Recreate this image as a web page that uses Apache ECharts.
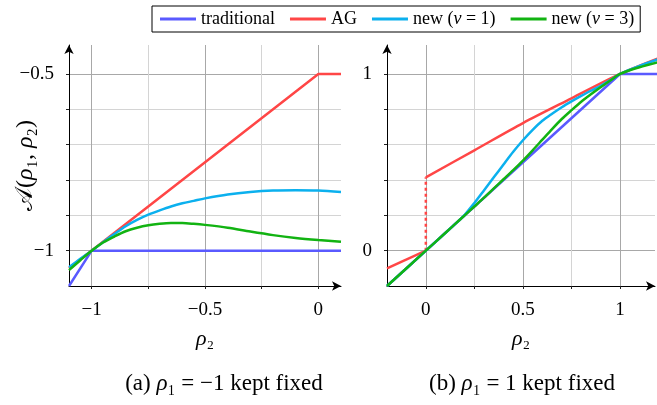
<!DOCTYPE html>
<html>
<head>
<meta charset="utf-8">
<script src="https://cdn.jsdelivr.net/npm/echarts@6/dist/echarts.min.js"></script>
<style>
html, body { margin: 0; padding: 0; background: #fff; }
#chart { width: 657px; height: 405px; }
</style>
</head>
<body>
<div id="chart"></div>
<script>
// series names (legend order)
const names = ['traditional', 'AG', 'new (ν = 1)', 'new (ν = 3)']
const colors = ['#5a5aff', '#ff4646', '#0bb0ee', '#12b312']

// (a) rho1 = -1
const leftRho = [-1.1, -1.05, -1, -0.95, -0.9, -0.85, -0.8, -0.75, -0.7, -0.65, -0.6, -0.55, -0.5, -0.4, -0.3, -0.2, -0.1, 0, 0.1]
const leftNew1 = [-1.047, -1.023, -1, -0.976, -0.953, -0.931, -0.913, -0.898, -0.886, -0.875, -0.866, -0.859, -0.852, -0.841, -0.834, -0.830, -0.829, -0.830, -0.834]
const leftNew3 = [-1.055, -1.027, -1, -0.977, -0.960, -0.945, -0.935, -0.928, -0.924, -0.922, -0.922, -0.924, -0.927, -0.935, -0.946, -0.956, -0.964, -0.970, -0.975]
const leftTradRho = [-1.1, -1, 0.1]
const leftTrad = [-1.1, -1, -1]
const leftAgRho = [-1.1, 0, 0.1]
const leftAg = [-1.05, -0.5, -0.5]

// (b) rho1 = 1
const rightRho = [-0.2, 0, 0.1, 0.15, 0.2, 0.25, 0.3, 0.35, 0.4, 0.45, 0.5, 0.55, 0.6, 0.65, 0.7, 0.75, 0.8, 0.85, 0.9, 0.95, 1, 1.1, 1.2]
const rightNew1 = [-0.2, 0, 0.1, 0.15, 0.203, 0.27, 0.342, 0.415, 0.488, 0.56, 0.625, 0.684, 0.735, 0.775, 0.812, 0.845, 0.876, 0.905, 0.933, 0.965, 1, 1.045, 1.085]
const rightNew3 = [-0.2, 0, 0.1, 0.15, 0.2, 0.25, 0.3, 0.352, 0.404, 0.456, 0.51, 0.568, 0.628, 0.688, 0.745, 0.795, 0.843, 0.885, 0.925, 0.963, 1, 1.038, 1.068]
const rightTradRho = [-0.2, 1, 1.2]
const rightTrad = [-0.2, 1, 1]
const rightAgLowRho = [-0.2, 0]
const rightAgLow = [-0.1, 0]
const rightAgHighRho = [0, 0.25, 0.5, 0.75, 1, 1.2]
const rightAgHigh = [0.415, 0.568, 0.722, 0.862, 1, 1.09]

// ticks / labels
const leftXTicks = [-1, -0.75, -0.5, -0.25, 0]
const leftXLabels = [-1, -0.5, 0]
const leftYTicks = [-1, -0.9, -0.8, -0.7, -0.6, -0.5]
const leftYLabels = [-1, -0.5]
const rightXTicks = [0, 0.25, 0.5, 0.75, 1]
const rightXLabels = [0, 0.5, 1]
const rightYTicks = [0, 0.2, 0.4, 0.6, 0.8, 1]
const rightYLabels = [0, 1]

const FONT = '"Liberation Serif", "DejaVu Serif", serif'
const zip = (xs, ys) => xs.map((x, i) => [x, ys[i]])
const fmt = v => (v < 0 ? '\u2212' + Math.abs(v) : String(v))
const italic = size => ({ i: { fontFamily: FONT, fontSize: size, fontStyle: 'italic', color: '#000' } })

function makeAxis(idx, min, max, ticks, labels, majorEvery, extra) {
  return Object.assign({
    type: 'value',
    gridIndex: idx,
    min: min,
    max: max,
    axisLine: {
      show: true,
      onZero: false,
      symbol: ['none', 'arrow'],
      symbolSize: [7, 9],
      lineStyle: { color: '#000', width: 1 }
    },
    axisTick: { show: true, length: 3, customValues: ticks, lineStyle: { color: '#222' } },
    axisLabel: {
      customValues: labels,
      formatter: fmt,
      margin: 15,
      fontFamily: FONT,
      fontSize: 19,
      color: '#000'
    },
    splitLine: {
      show: true,
      lineStyle: {
        color: ['#a8a8a8'].concat(new Array(majorEvery - 1).fill('#d4d4d4')),
        width: 1
      }
    }
  }, extra)
}

function line(name, data, xi, extra) {
  const k = names.indexOf(name)
  return Object.assign({
    name: name,
    type: 'line',
    xAxisIndex: xi,
    yAxisIndex: xi,
    data: data,
    showSymbol: false,
    smooth: 0.3,
    lineStyle: { color: colors[k], width: 2.5 },
    itemStyle: { color: colors[k] },
    animation: false
  }, extra || {})
}

const chart = echarts.init(document.getElementById('chart'))

const xName = {
  name: '{i|ρ}₂', nameLocation: 'middle', nameGap: 42, nameMoveOverlap: false,
  nameTextStyle: { fontFamily: FONT, fontSize: 22, color: '#000', rich: italic(22) }
}

const option = {
  backgroundColor: '#fff',
  animation: false,
  legend: {
    top: 6,
    left: 152,
    data: names,
    icon: 'rect',
    itemWidth: 36,
    itemHeight: 3,
    itemGap: 15,
    padding: [4, 6, 4, 8],
    borderColor: '#000',
    borderWidth: 1,
    borderRadius: 0,
    formatter: n => n.replace('ν', '{i|ν}'),
    textStyle: {
      fontFamily: FONT,
      fontSize: 18,
      color: '#000',
      rich: italic(18)
    }
  },
  grid: [
    { left: 69, top: 45, width: 272, height: 241 },
    { left: 387, top: 45, width: 268, height: 241 }
  ],
  xAxis: [
    makeAxis(0, -1.1, 0.1, leftXTicks, leftXLabels, 2, xName),
    makeAxis(1, -0.2, 1.18, rightXTicks, rightXLabels, 2, xName)
  ],
  yAxis: [
    makeAxis(0, -1.1, -1.1 + 241 / 353.3, leftYTicks, leftYLabels, 5, {
      name: '𝒜({i|ρ}₁, {i|ρ}₂)', nameLocation: 'middle', nameRotate: 90, nameGap: 31, nameMoveOverlap: false,
      nameTextStyle: { fontFamily: FONT, fontSize: 24, color: '#000', rich: italic(24) }
    }),
    makeAxis(1, -0.2, -0.2 + 241 / 176.7, rightYTicks, rightYLabels, 5, {})
  ],
  graphic: [
    {
      type: 'text', x: 224, y: 384,
      style: { text: '(a) {i|ρ}₁ = −1 kept fixed', align: 'center', verticalAlign: 'middle',
        fontFamily: FONT, fontSize: 23, fill: '#000', rich: italic(23) }
    },
    {
      type: 'text', x: 522, y: 384,
      style: { text: '(b) {i|ρ}₁ = 1 kept fixed', align: 'center', verticalAlign: 'middle',
        fontFamily: FONT, fontSize: 23, fill: '#000', rich: italic(23) }
    }
  ],
  series: [
    line(names[0], zip(leftTradRho, leftTrad), 0, { smooth: false }),
    line(names[1], zip(leftAgRho, leftAg), 0, { smooth: false }),
    line(names[2], zip(leftRho, leftNew1), 0),
    line(names[3], zip(leftRho, leftNew3), 0),
    line(names[0], zip(rightTradRho, rightTrad), 1, { smooth: false }),
    line(names[1], zip(rightAgLowRho, rightAgLow), 1, { smooth: false }),
    line(names[1], [[rightAgLowRho[1], rightAgLow[1]], [rightAgHighRho[0], rightAgHigh[0]]], 1, {
      smooth: false, lineStyle: { color: colors[1], width: 2.5, type: [3, 3] }
    }),
    line(names[1], zip(rightAgHighRho, rightAgHigh), 1),
    line(names[2], zip(rightRho, rightNew1), 1),
    line(names[3], zip(rightRho, rightNew3), 1)
  ]
}

chart.setOption(option)
</script>
</body>
</html>
